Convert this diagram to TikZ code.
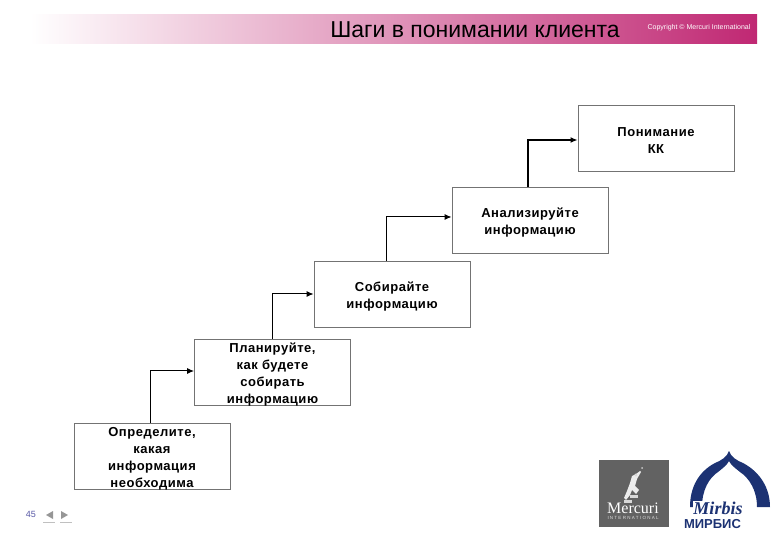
\documentclass[tikz,border=0pt]{standalone}
\usepackage{fontspec}
\setmainfont{Liberation Sans}
\newfontfamily\serifname{Liberation Serif}
\newfontfamily\boxfont[LetterSpace=4]{Liberation Sans}
\usetikzlibrary{arrows.meta}
\definecolor{bannerpink}{RGB}{192,40,115}
\definecolor{bannermid}{RGB}{234,208,216}
\definecolor{mirbisblue}{RGB}{28,50,115}
\definecolor{mercurigray}{RGB}{98,98,98}
\definecolor{navgray}{RGB}{150,150,150}
\tikzset{
    stepbox/.style={draw=black!55, line width=0.9pt, minimum width=156pt, minimum height=66pt, inner sep=0pt},
    steptext/.style={align=center, inner sep=0pt, yshift=-2.5pt, font=\boxfont\fontsize{13}{17}\selectfont\bfseries},
    link/.style={line width=1pt, -{Latex[length=7pt,width=6pt]}}
}

\begin{document}
\begin{tikzpicture}[x=1pt,y=-1pt]
    \useasboundingbox (0,0) rectangle (780,540);

    % Banner along the top
    \shade[left color=white, middle color=bannermid, right color=bannerpink] (30,15) rectangle (757,44);
    \node[font=\fontsize{23}{26}\selectfont] (title) at (475,30) {Шаги в понимании клиента};
    \node[font=\fontsize{7}{8}\selectfont, text=white] (copyright) at (699,28) {Copyright © Mercuri International};

    % The five steps
    \node[stepbox, label={[steptext]center:Определите,\\какая\\информация\\необходима}] (define) at (152,456) {};
    \node[stepbox, label={[steptext]center:Планируйте,\\как будете\\собирать\\информацию}] (plan) at (272.5,372) {};
    \node[stepbox, label={[steptext]center:Собирайте\\информацию}] (collect) at (392,294) {};
    \node[stepbox, label={[steptext]center:Анализируйте\\ информацию}] (analyse) at (530,220) {};
    \node[stepbox, label={[steptext]center:Понимание\\КК}] (understand) at (656,138) {};

    % Connectors between the steps
    \draw[link] ([xshift=-2pt]define.north) |- ([yshift=1pt]plan.west);
    \draw[link] (plan.north) |- (collect.west);
    \draw[link] ([xshift=-6pt]collect.north) |- ([yshift=3pt]analyse.west);
    \draw[link, line width=1.3pt] ([xshift=-2pt]analyse.north) |- ([yshift=-2pt]understand.west);

    % Page number and arrows
    \node[font=\fontsize{9}{10}\selectfont, text=blue!30!gray] (pagenum) at (31,514) {45};
    \fill[navgray] (46,515) -- (53,511) -- (53,519) -- cycle;
    \draw[navgray!60] (43,522) -- (55,522);
    \fill[navgray] (68,515) -- (61,511) -- (61,519) -- cycle;
    \draw[navgray!60] (60,522) -- (72,522);

    % Mercuri logo
    \fill[mercurigray] (599,460) rectangle (669,527);
    \fill[white!85!gray] (636,474) -- (640,471) -- (641,472) -- (637,479) -- (635,486) -- (639,490) -- (636,494) -- (632,490) -- (630,495) -- (626,500) -- (624,498) -- (627,491) -- (630,483) -- (632,476) -- cycle;
    \fill[white!70!gray] (636,475) circle (1.6);
    \fill[white!60!gray] (642,468) circle (1);
    \fill[white!70!gray] (624,500) rectangle (632,503);
    \fill[white!70!gray] (630,495) rectangle (638,498);
    \node[font=\serifname\fontsize{16}{17}\selectfont, text=white] (mercuri) at (633,508) {Mercuri};
    \node[font=\fontsize{4.5}{5}\selectfont, text=white!75!gray] (intl) at (633,518) {I N T E R N A T I O N A L};

    % Mirbis logo
    \fill[mirbisblue] (729,451) .. controls (731,457) and (736,460) .. (743,463) .. controls (760,472) and (770,488) .. (770,507) -- (757,507) .. controls (757,490) and (749,478) .. (740,472) .. controls (735,468) and (731,465) .. (729,461) .. controls (727,465) and (723,468) .. (718,472) .. controls (709,478) and (702,490) .. (702,507) -- (690,507) .. controls (690,488) and (698,472) .. (715,463) .. controls (722,460) and (727,457) .. (729,451) -- cycle;
    \node[font=\serifname\fontsize{18}{19}\selectfont\bfseries\itshape, text=mirbisblue, fill=white, inner sep=0.5pt] (mirbis) at (718,508) {Mirbis};
    \node[font=\fontsize{13}{14}\selectfont\bfseries, text=mirbisblue] (mirbisru) at (712.5,524) {МИРБИС};
\end{tikzpicture}
\end{document}
